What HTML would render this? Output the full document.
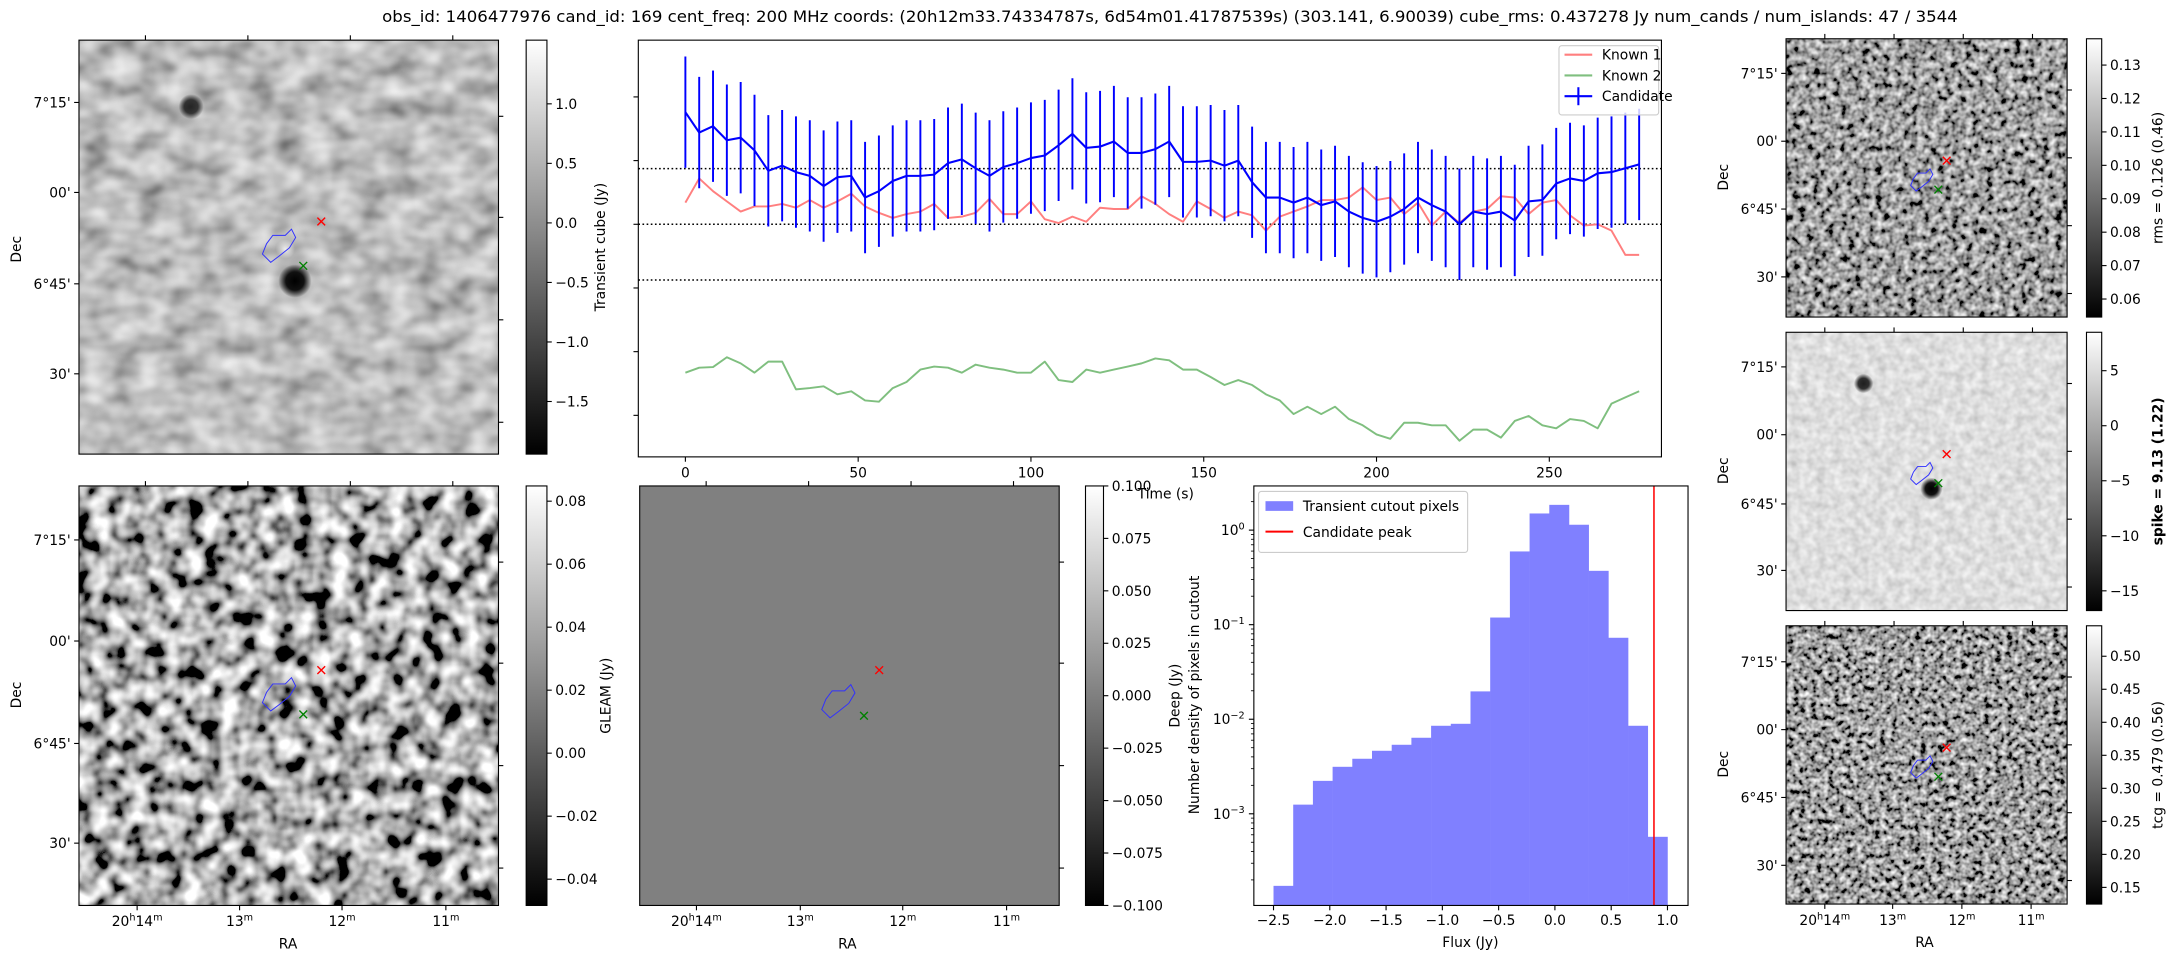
<!DOCTYPE html>
<html><head><meta charset="utf-8"><title>Candidate summary</title>
<style>
html,body{margin:0;padding:0;background:#fff;}
svg{display:block;font-family:"DejaVu Sans","Liberation Sans",sans-serif;}
</style></head>
<body>
<svg id="fig" width="2171" height="960" viewBox="0 0 1568 693.4" xmlns="http://www.w3.org/2000/svg">
<defs>
<filter id="fA" x="0" y="0" width="1" height="1"><feTurbulence type="fractalNoise" baseFrequency="0.05 0.07" numOctaves="2" seed="4"/><feColorMatrix type="matrix" values="0.9 0 0 0 0.06 0.9 0 0 0 0.06 0.9 0 0 0 0.06 0 0 0 0 1"/></filter>
<filter id="fD" x="0" y="0" width="1" height="1"><feTurbulence type="fractalNoise" baseFrequency="0.075" numOctaves="2" seed="9"/><feColorMatrix type="matrix" values="2.3 0 0 0 -0.72 2.3 0 0 0 -0.72 2.3 0 0 0 -0.72 0 0 0 0 1"/></filter>
<filter id="fR" x="0" y="0" width="1" height="1"><feTurbulence type="fractalNoise" baseFrequency="0.2" numOctaves="2" seed="2"/><feColorMatrix type="matrix" values="1.6 0 0 0 -0.45 1.6 0 0 0 -0.45 1.6 0 0 0 -0.45 0 0 0 0 1"/></filter>
<filter id="fS" x="0" y="0" width="1" height="1"><feTurbulence type="fractalNoise" baseFrequency="0.16" numOctaves="2" seed="6"/><feColorMatrix type="matrix" values="0.5 0 0 0 0.48 0.5 0 0 0 0.48 0.5 0 0 0 0.48 0 0 0 0 1"/></filter>
<filter id="fT" x="0" y="0" width="1" height="1"><feTurbulence type="fractalNoise" baseFrequency="0.24" numOctaves="2" seed="11"/><feColorMatrix type="matrix" values="1.7 0 0 0 -0.5 1.7 0 0 0 -0.5 1.7 0 0 0 -0.5 0 0 0 0 1"/></filter>
<linearGradient id="cb" x1="0" y1="1" x2="0" y2="0"><stop offset="0" stop-color="#000"/><stop offset="1" stop-color="#fff"/></linearGradient>
<radialGradient id="dark"><stop offset="0" stop-color="#000"/><stop offset="0.55" stop-color="#111"/><stop offset="1" stop-color="#000" stop-opacity="0"/></radialGradient>
<radialGradient id="light"><stop offset="0" stop-color="#eee"/><stop offset="1" stop-color="#eee" stop-opacity="0"/></radialGradient>
</defs>
<text x="845" y="16" font-size="11.5" text-anchor="middle" textLength="1138" lengthAdjust="spacingAndGlyphs">obs_id: 1406477976 cand_id: 169 cent_freq: 200 MHz coords: (20h12m33.74334787s, 6d54m01.41787539s) (303.141, 6.90039) cube_rms: 0.437278 Jy num_cands / num_islands: 47 / 3544</text>

<g>
<rect x="57" y="29" width="303" height="299" fill="#888" filter="url(#fA)"/>
<circle cx="138" cy="77" r="9" fill="url(#dark)" opacity="0.8"/>
<circle cx="213" cy="203" r="12" fill="url(#dark)"/>
<circle cx="206" cy="180" r="7" fill="url(#light)"/>
</g>
<g>
<rect x="57" y="351" width="303" height="303" fill="#888" filter="url(#fD)"/>
</g>
<g>
<rect x="462" y="351" width="303" height="303" fill="#808080"/>
</g>
<g>
<rect x="1290" y="28" width="203" height="201" fill="#555" filter="url(#fR)"/>
</g>
<g>
<rect x="1290" y="240" width="203" height="201" fill="#bbb" filter="url(#fS)"/>
<circle cx="1346" cy="277" r="7" fill="url(#dark)" opacity="0.85"/>
<circle cx="1395" cy="353" r="8" fill="url(#dark)"/>
</g>
<g>
<rect x="1290" y="452" width="203" height="201" fill="#555" filter="url(#fT)"/>
</g>
<g id="overlay"></g>
<g id="axes"></g>
</svg>

<script>
// ---- time series data ----
var times = [];
for (var i = 0; i < 70; i++) times.push(i * 4);
var candidateFlux = [0.88,0.72,0.77,0.66,0.68,0.58,0.42,0.46,0.41,0.38,0.30,0.37,0.38,0.21,0.26,0.34,0.38,0.38,0.39,0.48,0.51,0.44,0.38,0.45,0.48,0.52,0.54,0.62,0.71,0.60,0.61,0.65,0.56,0.56,0.59,0.65,0.49,0.49,
 0.50,0.46,0.50,0.33,0.21,0.21,0.17,0.21,0.15,0.18,0.10,0.05,0.02,0.06,0.12,0.21,0.15,0.10,0.00,0.10,0.08,0.10,0.03,0.18,0.19,0.32,0.36,0.34,0.40,0.41,0.44,0.47];
var candidateErr = [0.437,0.437,0.437,0.437,0.437,0.437,0.437,0.437,0.437,0.437,0.437,0.437,0.437,0.437,0.437,0.437,0.437,0.437,0.437,0.437,0.437,0.437,0.437,0.437,0.437,0.437,0.437,0.437,0.437,0.437,0.437,0.437,0.437,0.437,0.437,0.437,0.437,0.437,0.437,0.437,0.437,0.437,0.437,0.437,0.437,0.437,0.437,0.437,0.437,0.437,0.437,0.437,0.437,0.437,0.437,0.437,0.437,0.437,0.437,0.437,0.437,0.437,0.437,0.437,0.437,0.437,0.437,0.437,0.437,0.437];
var known1Flux = [0.17,0.36,0.26,0.18,0.10,0.14,0.14,0.16,0.13,0.19,0.13,0.18,0.24,0.14,0.09,0.05,0.08,0.10,0.16,0.05,0.06,0.09,0.20,0.08,0.08,0.18,0.04,0.01,0.06,0.02,0.13,0.12,0.12,0.22,0.16,0.08,0.02,0.18,
 0.12,0.05,0.10,0.07,-0.05,0.06,0.10,0.14,0.19,0.19,0.21,0.29,0.19,0.21,0.08,0.17,-0.01,0.10,0.01,0.10,0.12,0.22,0.21,0.08,0.17,0.19,0.07,-0.01,0.00,-0.05,-0.24,-0.24];
var known2Flux = [-1.165,-1.126,-1.121,-1.044,-1.092,-1.165,-1.078,-1.078,-1.296,-1.286,
 -1.272,-1.335,-1.311,-1.383,-1.393,-1.286,-1.238,-1.141,-1.117,-1.126,
 -1.165,-1.102,-1.126,-1.141,-1.165,-1.165,-1.078,-1.223,-1.238,-1.141,
 -1.165,-1.141,-1.117,-1.092,-1.053,-1.068,-1.141,-1.141,-1.199,-1.262,
 -1.223,-1.262,-1.335,-1.383,-1.49,-1.432,-1.49,-1.432,-1.529,-1.578,
 -1.65,-1.684,-1.558,-1.558,-1.578,-1.578,-1.699,-1.612,-1.612,-1.675,
 -1.544,-1.505,-1.578,-1.602,-1.529,-1.544,-1.602,-1.408,-1.359,-1.311];
var cubeRms = 0.437278;
var timeTicks = [0,50,100,150,200,250];
var timeYTicks = [1.0,0.5,0.0,-0.5,-1.0,-1.5];
// ---- histogram data ----
var binEdges = [-2.5,-2.325,-2.15,-1.975,-1.8,-1.625,-1.45,-1.275,-1.1,-0.925,-0.75,-0.575,-0.4,-0.225,-0.05,0.125,0.3,0.475,0.65,0.825,1.0];
var binDensity = [1.73e-4,1.25e-3,2.23e-3,3.14e-3,3.82e-3,4.64e-3,5.37e-3,6.37e-3,8.53e-3,8.95e-3,1.97e-2,0.119,0.595,1.50,1.85,1.14,0.371,0.0727,8.53e-3,5.71e-4];
var candidatePeak = 0.88;
var fluxTicks = [-2.5,-2.0,-1.5,-1.0,-0.5,0.0,0.5,1.0];
var fluxTickLabels = ["\u22122.5","\u22122.0","\u22121.5","\u22121.0","\u22120.5","0.0","0.5","1.0"];
var densityDecades = [0,-1,-2,-3];
// ---- colorbar ticks ----
var cbCubeTicks = [1.0,0.5,0.0,-0.5,-1.0,-1.5];
var cbDeepTicks = [0.08,0.06,0.04,0.02,0.00,-0.02,-0.04];
var cbGleamTicks = [0.100,0.075,0.050,0.025,0.000,-0.025,-0.050,-0.075,-0.100];
var cbRmsTicks = [0.13,0.12,0.11,0.10,0.09,0.08,0.07,0.06];
var cbSpikeTicks = [5,0,-5,-10,-15];
var cbTcgTicks = [0.50,0.45,0.40,0.35,0.30,0.25,0.20,0.15];

var NS = "http://www.w3.org/2000/svg";
var AX = document.getElementById('axes');
var OV = document.getElementById('overlay');
function mk(tag, attrs, parent) {
  var e = document.createElementNS(NS, tag);
  for (var k in attrs) e.setAttribute(k, attrs[k]);
  (parent || AX).appendChild(e);
  return e;
}
function txt(s, x, y, size, anchor, parent, extra) {
  var e = mk('text', {x: x, y: y, 'font-size': size, 'text-anchor': anchor || 'start'}, parent);
  e.textContent = s;
  if (extra) for (var k in extra) e.setAttribute(k, extra[k]);
  return e;
}
function minus(v, d) { var s = Math.abs(v).toFixed(d); return (v < 0 ? "\u2212" : "") + s; }

function tx(t) { return 495 + 2.496 * t; }
function ty(v) { return 162 - 92 * v; }
function hx(f) { return 919.8 + 81.3 * (f + 2.5); }
function hy(d) { return 382.9 - 68.3 * Math.log10(d); }

function frame(x, y, w, h, name) {
  var r = mk('rect', {x: x, y: y, width: w, height: h, fill: 'none', stroke: '#000', 'stroke-width': 0.8});
  
  
}
frame(57, 29, 303, 299, 'transient-cube-frame');
frame(57, 351, 303, 303, 'deep-frame');
frame(462, 351, 303, 303, 'gleam-frame');
frame(1290, 28, 203, 201, 'rms-frame');
frame(1290, 240, 203, 201, 'spike-frame');
frame(1290, 452, 203, 201, 'tcg-frame');

function colorbar(x, y, w, h, ticks, fy, fmt, name, label, lx, bold) {
  var g = mk('g', {});
  
  
  mk('rect', {x: x, y: y, width: w, height: h, fill: 'url(#cb)', stroke: '#000', 'stroke-width': 0.8}, g);
  ticks.forEach(function (v) {
    var yy = fy(v);
    var t = mk('line', {x1: x + w, x2: x + w + 3.5, y1: yy, y2: yy, stroke: '#000', 'stroke-width': 0.8}, g);
    
    
    var l = txt(fmt(v), x + w + 6, yy + 3.6, 10, 'start', g);
    
    
  });
  var cy = y + h / 2;
  var lb = txt(label, lx, cy, 10, 'middle', g, {transform: 'rotate(-90 ' + lx + ' ' + cy + ')'});
  if (bold) lb.setAttribute('font-weight', 'bold');
  
  
}
colorbar(380, 29, 15, 299, cbCubeTicks, function (v) { return 161 - 86 * v; }, function (v) { return minus(v, 1); }, 'transient-colorbar', 'Transient cube (Jy)', 437);
colorbar(380, 351, 15, 303, cbDeepTicks, function (v) { return 544 - 2275 * v; }, function (v) { return minus(v, 2); }, 'deep-colorbar', 'GLEAM (Jy)', 441);
colorbar(784, 351, 13, 303, cbGleamTicks, function (v) { return 502.5 - 1515 * v; }, function (v) { return minus(v, 3); }, 'gleam-colorbar', 'Deep (Jy)', 852);
colorbar(1507, 28, 11, 201, cbRmsTicks, function (v) { return 47 + (0.13 - v) * 2414; }, function (v) { return minus(v, 2); }, 'rms-colorbar', 'rms = 0.126 (0.46)', 1562);
colorbar(1507, 240, 11, 201, cbSpikeTicks, function (v) { return 307.5 - 7.95 * v; }, function (v) { return minus(v, 0); }, 'spike-colorbar', 'spike = 9.13 (1.22)', 1562, true);
colorbar(1507, 452, 11, 201, cbTcgTicks, function (v) { return 474 + (0.5 - v) * 477; }, function (v) { return minus(v, 2); }, 'tcg-colorbar', 'tcg = 0.479 (0.56)', 1562);

var decLabels = ["7\u00b015'", "00'", "6\u00b045'", "30'"];
function decAxis(x, ys, labelX, labelY) {
  ys.forEach(function (yy, i) {
    var t = mk('line', {x1: x, x2: x - 3.5, y1: yy, y2: yy, stroke: '#000', 'stroke-width': 0.8});
    
    
    var l = txt(decLabels[i], x - 6, yy + 3.6, 10, 'end');
    
    
  });
  var d = txt('Dec', labelX, labelY, 10, 'middle', AX, {transform: 'rotate(-90 ' + labelX + ' ' + labelY + ')'});
  
  
}
decAxis(57, [74, 139, 205, 270], 15, 180);
decAxis(57, [390, 463, 537, 609], 15, 502);
decAxis(1290, [53, 102, 151, 200], 1248, 128);
decAxis(1290, [265, 314, 364, 412], 1248, 340);
decAxis(1290, [478, 527, 576, 625], 1248, 552);
function sideTicks(x0, y0, w, h, xs, ys) {
  xs.forEach(function (xx) {
    var a = mk('line', {x1: x0 + xx, x2: x0 + xx, y1: y0, y2: y0 - 3.5, stroke: '#000', 'stroke-width': 0.8});
    
    
  });
  ys.forEach(function (yy) {
    var b = mk('line', {x1: x0 + w, x2: x0 + w + 3.5, y1: y0 + yy, y2: y0 + yy, stroke: '#000', 'stroke-width': 0.8});
    
    
  });
}
sideTicks(57, 29, 303, 299, [48, 122, 196, 270], [55, 128, 202, 276]);
sideTicks(57, 351, 303, 303, [48, 122, 196, 270], [55, 128, 202, 276]);
sideTicks(462, 351, 303, 303, [48, 122, 196, 270], [55, 128, 202, 276]);
sideTicks(1290, 28, 203, 201, [28, 78, 128, 178], [37, 86, 135, 184]);
sideTicks(1290, 240, 203, 201, [28, 78, 128, 178], [37, 86, 135, 184]);
sideTicks(1290, 452, 203, 201, [28, 78, 128, 178], [37, 86, 135, 184]);

function raAxis(xs, y, cx) {
  var labs = [['20', 'h', '14', 'm'], ['13', 'm'], ['12', 'm'], ['11', 'm']];
  xs.forEach(function (xx, i) {
    var t = mk('line', {x1: xx, x2: xx, y1: y, y2: y + 3.5, stroke: '#000', 'stroke-width': 0.8});
    
    
    var e = mk('text', {x: xx, y: y + 15, 'font-size': 10, 'text-anchor': 'middle'});
    
    
    var p = labs[i];
    for (var j = 0; j < p.length; j++) {
      var s = document.createElementNS(NS, 'tspan');
      s.textContent = p[j];
      if (j % 2 === 1) { s.setAttribute('font-size', 7); s.setAttribute('dy', -4); }
      else if (j > 0) { s.setAttribute('dy', 4); }
      e.appendChild(s);
    }
  });
  var r = txt('RA', cx, y + 31, 10, 'middle');
  
  
}
raAxis([99, 173, 247, 322], 654, 208);
raAxis([503, 578, 652, 727], 654, 612);
raAxis([1318, 1367, 1417, 1467], 653, 1390);

function marks(rx, ry, gx, gy, poly) {
  var c = mk('polygon', {points: poly, fill: 'none', stroke: '#3030ff', 'stroke-width': 0.7}, OV);
  
  
  [[rx, ry, 'red', 'candidate-marker'], [gx, gy, 'green', 'known-source-marker']].forEach(function (m) {
    var p = mk('path', {d: 'M' + (m[0] - 2.8) + ' ' + (m[1] - 2.8) + 'l5.6 5.6M' + (m[0] + 2.8) + ' ' + (m[1] - 2.8) + 'l-5.6 5.6', stroke: m[2], 'stroke-width': 1}, OV);
    
    
  });
}
function poly(cx, cy, s) {
  var pts = [[-7, -2], [-4, -6], [2, -6], [5, -9], [7, -5], [4, 0], [-1, 4], [-5, 7], [-9, 3]];
  return pts.map(function (p) { return (cx + p[0] * s) + ',' + (cy + p[1] * s); }).join(' ');
}
marks(232, 160, 219, 192, poly(203, 179, 1.5));
marks(232, 484, 219, 516, poly(203, 503, 1.5));
marks(635, 484, 624, 517, poly(607, 508, 1.5));
marks(1406, 116, 1400, 137, poly(1389, 131, 1.0));
marks(1406, 328, 1400, 349, poly(1389, 343, 1.0));
marks(1406, 540, 1400, 561, poly(1389, 555, 1.0));

// ---- time series panel ----
frame(461, 29, 739, 301, 'lightcurve-frame');
[cubeRms, 0, -cubeRms].forEach(function (v) {
  var l = mk('line', {x1: 461, x2: 1200, y1: ty(v), y2: ty(v), stroke: '#000', 'stroke-width': 1.1, 'stroke-dasharray': '1.2 1.8'});
  
  
});
timeTicks.forEach(function (t) {
  var a = mk('line', {x1: tx(t), x2: tx(t), y1: 330, y2: 333.5, stroke: '#000', 'stroke-width': 0.8});
  
  
  var l = txt(String(t), tx(t), 345, 10, 'middle');
  
  
});
timeYTicks.forEach(function (v) {
  var a = mk('line', {x1: 461, x2: 457.5, y1: ty(v), y2: ty(v), stroke: '#000', 'stroke-width': 0.8});
  
  
});
var tl = txt('Time (s)', 842, 360, 10, 'middle');


function series(vals, color, name, w) {
  var d = vals.map(function (v, i) { return (i ? 'L' : 'M') + tx(times[i]).toFixed(2) + ' ' + ty(v).toFixed(2); }).join('');
  var p = mk('path', {d: d, fill: 'none', stroke: color, 'stroke-width': w, 'stroke-linejoin': 'round'});
  
  
}
series(known1Flux, '#ff7f7f', 'known-1-line', 1.4);
series(known2Flux, '#7fbf7f', 'known-2-line', 1.4);
candidateFlux.forEach(function (v, i) {
  var e = mk('line', {x1: tx(times[i]), x2: tx(times[i]), y1: ty(v + candidateErr[i]), y2: ty(v - candidateErr[i]), stroke: '#0000ff', 'stroke-width': 1.4});
  
  
});
series(candidateFlux, '#0000ff', 'candidate-line', 1.5);
var lg = mk('g', {});


mk('rect', {x: 1126, y: 33, width: 72, height: 50, rx: 2, fill: '#fff', 'fill-opacity': 0.8, stroke: '#ccc', 'stroke-width': 0.8}, lg);
[['Known 1', '#ff7f7f', 43], ['Known 2', '#7fbf7f', 58], ['Candidate', '#0000ff', 73]].forEach(function (e) {
  var ln = mk('line', {x1: 1130, x2: 1150, y1: e[2] - 3.5, y2: e[2] - 3.5, stroke: e[1], 'stroke-width': 1.5}, lg);
  
  
  if (e[0] === 'Candidate') {
    var v = mk('line', {x1: 1140, x2: 1140, y1: e[2] - 10, y2: e[2] + 3, stroke: e[1], 'stroke-width': 1.5}, lg);
    
    
  }
  var t = txt(e[0], 1157, e[2], 10, 'start', lg);
  
  
});

// ---- histogram ----
var bottomY = 654;
binDensity.forEach(function (d, i) {
  var x0 = hx(binEdges[i]), x1 = hx(binEdges[i + 1]);
  var b = mk('rect', {x: x0, y: hy(d), width: x1 - x0 + 0.2, height: bottomY - hy(d), fill: '#8080ff'});
  
  
});
var pk = mk('line', {x1: hx(candidatePeak), x2: hx(candidatePeak), y1: 351, y2: 654, stroke: '#ff0000', 'stroke-width': 1.1});


frame(905.6, 351, 313.6, 303, 'histogram-frame');
fluxTicks.forEach(function (f, i) {
  var a = mk('line', {x1: hx(f), x2: hx(f), y1: 654, y2: 657.5, stroke: '#000', 'stroke-width': 0.8});
  
  
  var l = txt(fluxTickLabels[i], hx(f), 668, 10, 'middle');
  
  
});
densityDecades.forEach(function (p) {
  var yy = hy(Math.pow(10, p));
  var a = mk('line', {x1: 905.6, x2: 902, y1: yy, y2: yy, stroke: '#000', 'stroke-width': 0.8});
  
  
  var e = mk('text', {x: 899, y: yy + 3.6, 'font-size': 10, 'text-anchor': 'end'});
  
  
  var s1 = document.createElementNS(NS, 'tspan'); s1.textContent = '10'; e.appendChild(s1);
  var s2 = document.createElementNS(NS, 'tspan'); s2.textContent = p === 0 ? '0' : '\u2212' + (-p);
  s2.setAttribute('font-size', 7); s2.setAttribute('dy', -4); e.appendChild(s2);
  for (var m = 2; m < 10; m++) {
    var ym = hy(m * Math.pow(10, p - 1));
    if (ym > 351 && ym < 654) {
      var mt = mk('line', {x1: 905.6, x2: 903.5, y1: ym, y2: ym, stroke: '#000', 'stroke-width': 0.6});
      
      
    }
  }
});
for (var m2 = 2; m2 < 10; m2++) {
  var ym2 = hy(m2);
  if (ym2 > 351) {
    var mt2 = mk('line', {x1: 905.6, x2: 903.5, y1: ym2, y2: ym2, stroke: '#000', 'stroke-width': 0.6});
    
    
  }
}
var fl = txt('Flux (Jy)', 1062, 684, 10, 'middle');


var yl = txt('Number density of pixels in cutout', 866, 502, 10, 'middle', AX, {transform: 'rotate(-90 866 502)'});


var hl = mk('g', {});


mk('rect', {x: 909, y: 355, width: 151, height: 44, rx: 2, fill: '#fff', 'fill-opacity': 0.8, stroke: '#ccc', 'stroke-width': 0.8}, hl);
var lp = mk('rect', {x: 914, y: 362, width: 20, height: 7, fill: '#8080ff'}, hl);


var t1 = txt('Transient cutout pixels', 941, 369, 10, 'start', hl);


var ll = mk('line', {x1: 914, x2: 934, y1: 384, y2: 384, stroke: '#ff0000', 'stroke-width': 1.4}, hl);


var t2 = txt('Candidate peak', 941, 388, 10, 'start', hl);


</script>
</body></html>
